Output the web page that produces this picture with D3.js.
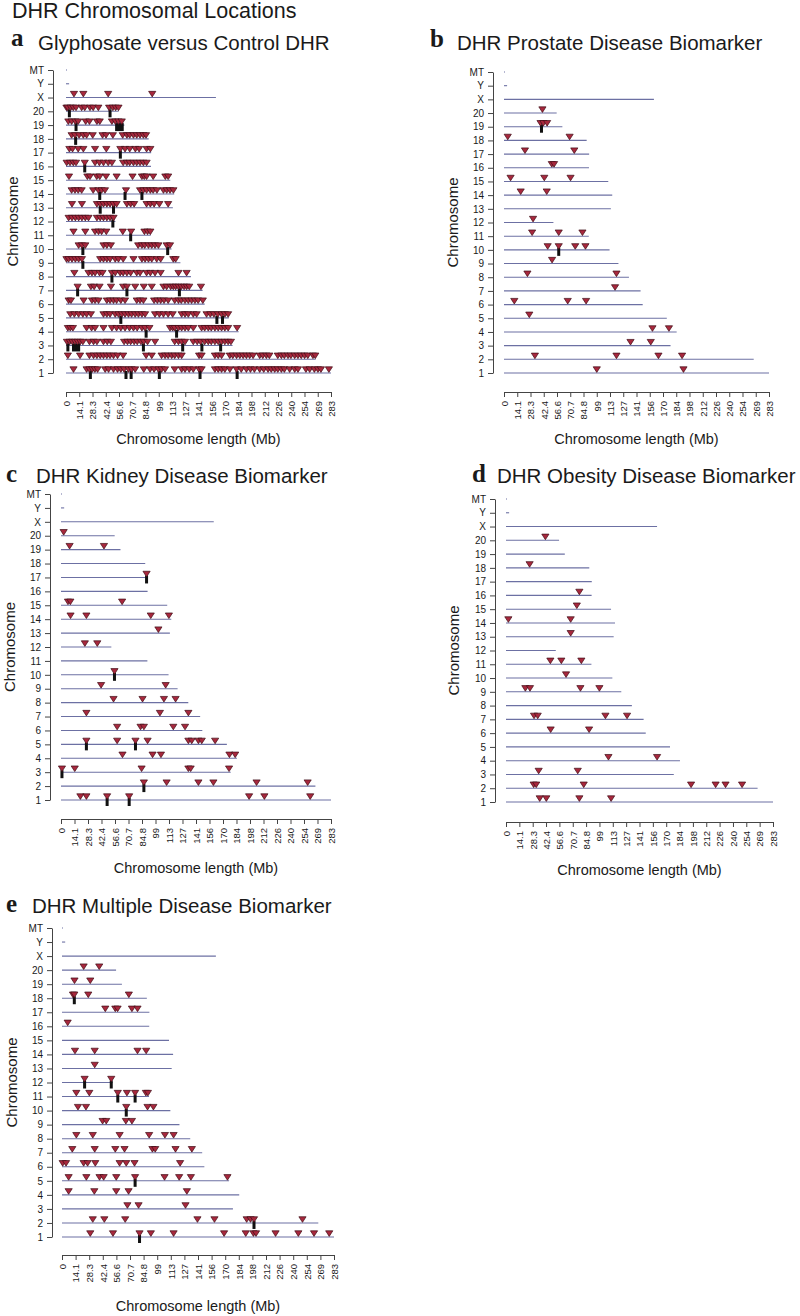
<!DOCTYPE html>
<html><head><meta charset="utf-8">
<script src="https://cdn.jsdelivr.net/npm/d3@7"></script>
<style>body{margin:0;background:#fff}text{font-family:"Liberation Sans",Arial,Helvetica,sans-serif;fill:#1a1a1a}</style>
</head><body>
<svg id="chart" width="800" height="1316"></svg>
<script>
// ---------------- DATA ----------------
const chromosomes = ["MT","Y","X","20","19","18","17","16","15","14","13","12","11","10","9","8","7","6","5","4","3","2","1"];
const chromLengthsMb = [0.016,3.31,159.97,56.21,62.28,88.2,90.84,90.67,111.25,115.49,114.03,52.72,90.46,112.63,122.1,133.31,145.73,147.99,173.71,184.23,177.7,266.44,282.76];
const xTickValues = [0,14.14,28.28,42.41,56.55,70.69,84.83,98.97,113.1,127.24,141.38,155.52,169.66,183.79,197.93,212.07,226.21,240.35,254.48,268.62,282.76];
const xTickLabels = ["0","14.1","28.3","42.4","56.6","70.7","84.8","99","113","127","141","156","170","184","198","212","226","240","254","269","283"];

// a: Glyphosate versus Control DHR (Mb positions per chromosome)
const glyphosateMarks = [
 ["X",[8.5,18.5,45,92]],
 ["20",[0.5,1.8,5,7.8,10.7,16.7,20,25.6,29,34.5,46,50,53,56]],
 ["19",[2.5,6,10,13,21,25,33,36,49,52.7,56,59.5]],
 ["18",[6,9.6,14,18.5,22,28.5,39,42.7,50,60.5,65,68,72,75.5,79,82.6,85.4]],
 ["17",[3.6,7,13,18.5,31,43,58,63,68,74,78,86,90]],
 ["16",[0.7,4.3,7.8,10.7,20,31,35.6,40,45,49,61,65,68,72,75.5,79,82.6,86]],
 ["15",[3.2,22.8,25.6,32.8,36,42.7,54,71,81,83.5,86,93,106,109]],
 ["14",[6,9.6,13,16.7,29,34.5,38,41.6,64,79,82.6,86,90,93,97,104,107.5,111,114.6]],
 ["13",[6.4,17,33,36.5,40,43.6,47,50.7,54,65,69,72.7,86,90,94,99.6,109]],
 ["12",[2.8,6.4,10,13.5,17,20.6,24,33,36.5,40,43.6,47,50.7]],
 ["11",[8,20.6,31,34.7,38,43,60.6,69.5,83.7,87,90]],
 ["10",[13.5,17,20.6,40,43.6,47.9,77,81,84,88,91.5,95,98.6,107.4,111]],
 ["9",[0.5,2.8,6.4,10,13.5,17,36.5,40,43.6,47,52.5,56,61,72,81,84.4,88,91.5,96.8,101,114.5,117]],
 ["8",[8.9,24,27.7,31,35.8,39,49,52.5,57.8,61,65,69,75.5,79,86,90,95,101,120,128.7]],
 ["7",[12.4,26.6,30,35.8,48,61,65,73.8,83,91.5,104,107.4,111.7,114.5,117,120,123,126,128.7,131.5,144]],
 ["6",[2.8,5.3,18.8,27.7,31,34.7,43.6,47,50.7,54,58.5,63,75.5,79,82.6,94,97.5,101,104.6,109,116,120,123,127,130.5,134,137.6,141,146]],
 ["5",[4.6,8.9,13.5,18,22,26.6,40,43.6,47,52.5,56,59.6,63,66.7,70,73.8,77.3,81,84.4,95,99.6,104,109,113.8,123.4,127,130.5,135.8,139.4,150,154,157.8,162,166,169.5,173]],
 ["4",[2,4.6,7.4,22,27.3,31,40,49,54,58.5,63,67.7,72,75.9,81,84.4,89,111,113.8,116,120,123.4,127,130.5,135.8,144.7,148,151.8,155,158.9,162.4,166,169.5,173,182.6]],
 ["3",[1,3.9,6.7,9.6,12.4,15.2,18,25,29.4,33,40,44,47.9,62,65.6,69,72.7,76,80,83,87,95,116,120,123.4,127,135.8,140,143.6,148,151.8,155,158.9,162.4,166,169.5,173,176]],
 ["2",[2,15,25,29.4,33,36.5,40,43.6,47,50.7,55,61,85.5,91.5,102,105.7,109,112.8,116,120,123.4,142,144.7,158.9,162.4,166,174.8,178,182,185.5,189,192.5,196,199.6,206.7,210,213.8,217,226,229.8,233,236.9,240,244,247.5,251,254.6,258,263.5,266]],
 ["1",[8,22,25,28,30.8,33.7,41.8,45.4,50.7,55,58.5,62,66.7,70,73.8,83,89.7,94,98.6,102,105.7,116,123.4,127,131.5,135.8,142,144.7,158.9,162.4,166,169.5,174.8,182,187,192.5,196.8,201,206.7,211,215.6,219,222.7,226,229.8,233,238.6,244,247.5,256,260,265,268.8,272,280.5]]
];
// black bars: [chromosome, start Mb, end Mb]
const glyphosateBars = [
 ["20",3.6,3.6],["20",47,47],["19",10.7,10.7],["19",54,60],["18",10.3,10.3],["17",58,58],["16",20,20],
 ["14",36,36],["14",63,63],["14",81,81],["13",36.5,36.5],["13",50.7,50.7],["12",50,50],["11",69,69],
 ["10",18,18],["10",108.5,108.5],["9",18,18],["8",49,49],["7",12.4,12.4],["7",65,65],["7",121,121],
 ["5",58.5,58.5],["5",161,161],["5",167,167],["4",85.5,85.5],["4",118,118],
 ["3",2,2],["3",8,13.5],["3",82.6,82.6],["3",124.5,124.5],["3",145,145],["3",165,165],
 ["1",26,26],["1",64,64],["1",69.5,69.5],["1",99.6,99.6],["1",143,143],["1",182.6,182.6]
];

// b: DHR Prostate Disease Biomarker
const prostateMarks = [
 ["20",[41]],["19",[39,42,46]],["18",[4,70]],["17",[22.4,75]],["16",[51,53.4]],["15",[7,43,71]],
 ["14",[17.8,45.6]],["12",[31]],["11",[30,58.4,83.7]],["10",[46.6,58.4,76,86.9]],["9",[51.3]],
 ["8",[25,120]],["7",[118.5]],["6",[11,68,87.6]],["5",[27]],["4",[158.4,176]],["3",[135,156.6]],
 ["2",[33,120,164.8,190]],["1",[99,191.5]]
];
const prostateBars = [["19",40,40],["10",58.4,58.4]];

// c: DHR Kidney Disease Biomarker
const kidneyMarks = [
 ["20",[2.8]],["19",[9,45]],["17",[89.6]],["15",[7.3,9.8,64]],["14",[10,26.6,94,113]],["13",[102]],
 ["12",[25,38]],["10",[56]],["9",[42,109.6]],["8",[55,85.4,107.8,120]],["7",[26.6,103.6,133.4]],
 ["6",[58.8,83.3,86.8,117.6,129.9]],["5",[26.6,58.8,78,90.7,133.4,136.9,143.9,147.4,161.4]],
 ["4",[64.4,95.9,104.7,176.4,182.4]],["3",[1,14.4,84.4,133.4,135.8,176]],
 ["2",[86.8,110.6,143.9,159.6,204.8,258.3]],["1",[20.3,26.6,48.3,71.4,197,213,261]]
];
const kidneyBars = [["17",89.6,89.6],["10",56,56],["5",26.6,26.6],["5",78,78],["3",1,1],["2",86.8,86.8],["1",48.3,48.3],["1",71.4,71.4]];

// d: DHR Obesity Disease Biomarker
const obesityMarks = [
 ["20",[41.7]],["18",[25]],["16",[77.7]],["15",[75]],["14",[2.5,68.5]],["13",[68.5]],
 ["11",[47,58.6,79.8]],["10",[63.6]],["9",[20.5,25.4,78.8,98.9]],["7",[29.7,33.6,105.3,128.2]],
 ["6",[47.3,88]],["4",[108.5,160]],["3",[34.6,76]],["2",[29.3,32,82.3,196,222,232.5,250]],
 ["1",[35.7,42.7,77.7,111.3]]
];
const obesityBars = [];

// e: DHR Multiple Disease Biomarker
const multipleMarks = [
 ["20",[22.5,38.7]],["19",[13,29.4]],["18",[11.4,12.8,27.3,69.5]],["17",[45,55.4,57.8,72.7,78.5]],
 ["16",[5.9]],["14",[13.5,34,78.5,87.5]],["13",[34]],["12",[23.5,51.2]],
 ["11",[14.9,28.4,58,67.5,76,87.2,89.3]],["10",[16.6,24.9,66.8,88.9,95]],["9",[42.2,46,66.4,72.7]],
 ["8",[14.9,32,59.9,90.6,107,116]],["7",[10.7,34,55.4,65,94,96.9,118,135]],
 ["6",[0.7,4.2,22.5,26.6,34.6,59.9,66.8,75.4,122.8]],["5",[6.9,25.3,39,43.3,56.4,76,106.6,121.8,134,172]],
 ["4",[6.9,33.6,56.4,69.2,129.8]],["3",[68,79.6,128.4]],["2",[32,44,65.7,140.8,158.5,192,196,199.6,250]],
 ["1",[29.4,53,80.6,92.4,116,168.5,191,199,201.7,222,245.7,262,277.8]]
];
const multipleBars = [["18",12.8,12.8],["12",23.5,23.5],["12",51.2,51.2],["11",58,58],["11",76,76],["10",66.8,66.8],["5",76,76],["2",199.6,199.6],["1",80.6,80.6]];

const mainTitle = "DHR Chromosomal Locations";
const panelLetters = ["a","b","c","d","e"];
const panelTitles = ["Glyphosate versus Control DHR","DHR Prostate Disease Biomarker","DHR Kidney Disease Biomarker","DHR Obesity Disease Biomarker","DHR Multiple Disease Biomarker"];
const yAxisTitle = "Chromosome";
const xAxisTitle = "Chromosome length (Mb)";

// ---------------- LAYOUT ----------------
const layouts = [
 {yTop:70, yBot:373, axisX:53, x0:66, x1:331, xAxisY:392, yTitleX:18, xTitleY:444, letterX:11, letterY:46, titleX:38, titleY:50},
 {yTop:72, yBot:373, axisX:493, x0:504, x1:769, xAxisY:392, yTitleX:458, xTitleY:444, letterX:430, letterY:47, titleX:457, titleY:50},
 {yTop:494, yBot:800, axisX:50, x0:61, x1:331, xAxisY:819, yTitleX:15, xTitleY:873, letterX:6, letterY:482, titleX:36, titleY:483},
 {yTop:499, yBot:802, axisX:495, x0:506, x1:773, xAxisY:822, yTitleX:459, xTitleY:875, letterX:472, letterY:482, titleX:497, titleY:483},
 {yTop:928, yBot:1237, axisX:52, x0:62, x1:334, xAxisY:1255, yTitleX:17, xTitleY:1311, letterX:6, letterY:912, titleX:32, titleY:913}
];
const panelMarks = [glyphosateMarks, prostateMarks, kidneyMarks, obesityMarks, multipleMarks];
const panelBars = [glyphosateBars, prostateBars, kidneyBars, obesityBars, multipleBars];

const svg = d3.select("#chart");
svg.append("rect").attr("width",800).attr("height",1316).attr("fill","#fff");
svg.append("text").attr("x",12).attr("y",18).style("font-size","21.5px").text(mainTitle);

const lineColor = "#6c70a3", triFill = "#a8283d", triStroke = "#3d0c15";

layouts.forEach((L, p) => {
  const g = svg.append("g");
  const y = d3.scalePoint().domain(chromosomes).range([L.yTop, L.yBot]);
  const x = d3.scaleLinear().domain([0, 282.76]).range([L.x0, L.x1]);

  g.append("text").attr("x",L.letterX).attr("y",L.letterY)
    .style("font-family","'Liberation Serif','Times New Roman',serif").style("font-weight","bold").style("font-size","25px")
    .text(panelLetters[p]);
  g.append("text").attr("x",L.titleX).attr("y",L.titleY).style("font-size","20.5px").text(panelTitles[p]);

  // y axis
  const ya = g.append("g").attr("transform",`translate(${L.axisX},0)`)
    .call(d3.axisLeft(y).tickSize(5).tickSizeOuter(0).tickPadding(4));
  ya.selectAll("text").style("font-size","10px").style("font-family","'Liberation Sans',Arial,sans-serif").attr("fill","#1a1a1a");
  ya.selectAll("line,path").attr("stroke","#444");

  // x axis
  const xa = g.append("g").attr("transform",`translate(0,${L.xAxisY})`)
    .call(d3.axisBottom(x).tickValues(xTickValues).tickFormat((d,i)=>xTickLabels[i]).tickSize(5).tickSizeOuter(0));
  xa.selectAll("text").style("font-size","9.5px").style("font-family","'Liberation Sans',Arial,sans-serif").attr("fill","#1a1a1a")
    .attr("transform","rotate(-90)").attr("text-anchor","end").attr("x",-9).attr("y",0).attr("dy","0.35em");
  xa.selectAll("line,path").attr("stroke","#444");

  // axis titles
  g.append("text").attr("transform",`translate(${L.yTitleX},${(L.yTop+L.yBot)/2}) rotate(-90)`)
    .attr("text-anchor","middle").style("font-size","15px").text(yAxisTitle);
  g.append("text").attr("x",(L.x0+L.x1)/2).attr("y",L.xTitleY).attr("text-anchor","middle").style("font-size","14.5px").text(xAxisTitle);

  // chromosome lines
  g.append("g").selectAll("line").data(chromosomes).join("line")
    .attr("x1", x(0)).attr("x2", (c,i)=>Math.max(x(chromLengthsMb[i]), x(0)+1))
    .attr("y1", c=>y(c)).attr("y2", c=>y(c))
    .attr("stroke", lineColor).attr("stroke-width",1.1);

  // bars
  g.append("g").selectAll("rect").data(panelBars[p]).join("rect")
    .attr("x", d=>x(d[1])-1.5).attr("width", d=>Math.max(3, x(d[2])-x(d[1])+3))
    .attr("y", d=>y(d[0])-2).attr("height", 8).attr("fill","#111");

  // triangles
  const pts = [];
  panelMarks[p].forEach(([c, arr]) => arr.forEach(v => pts.push([c, v])));
  g.append("g").selectAll("path").data(pts).join("path")
    .attr("d", d => {
      const cx = x(d[1]), cy = y(d[0]);
      return `M${cx-3.6},${cy-6.2}L${cx+3.6},${cy-6.2}L${cx},${cy-0.6}Z`;
    })
    .attr("fill", triFill).attr("stroke", triStroke).attr("stroke-width",0.7);
});
</script>
</body></html>
